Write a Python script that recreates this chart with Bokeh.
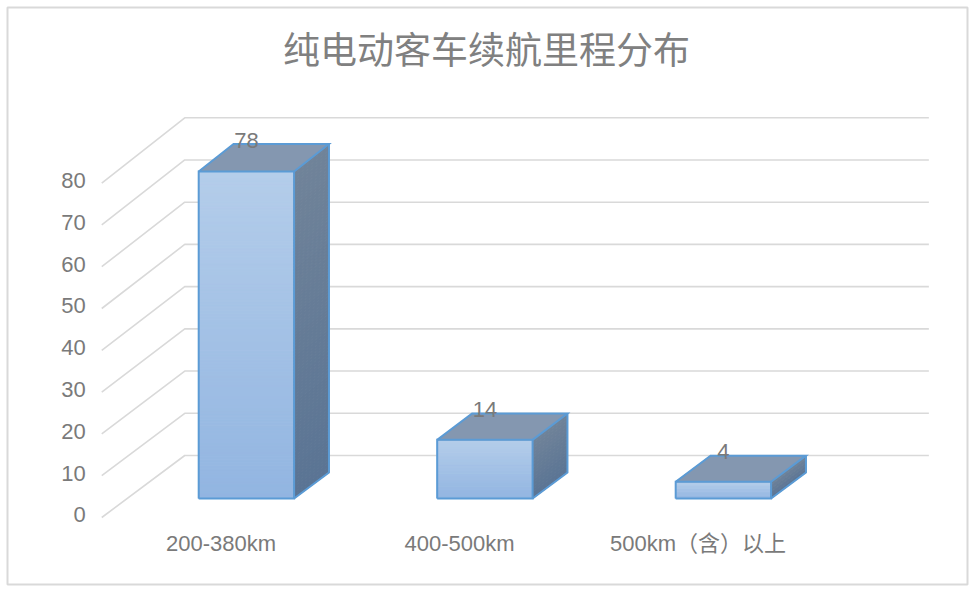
from bokeh.plotting import figure
from bokeh.models import Range1d
from bokeh.core.properties import value
from bokeh.embed import file_html
from bokeh.resources import INLINE

# ---- data -------------------------------------------------------------
title_text = "纯电动客车续航里程分布"
categories = ["200-380km", "400-500km", "500km（含）以上"]
counts = [78, 14, 4]
y_ticks = [0, 10, 20, 30, 40, 50, 60, 70, 80]

# ---- layout of the oblique 3-D projection -----------------------------
W, H = 975, 591
BORDER = 7
CAT_PX = 238.5          # screen px per category on the front plane
VAL_PX = 4.18           # screen px per value unit on the front plane
ORIGIN_X, ORIGIN_Y = 220.5, 517.0   # screen px of (category 0, value 0)

DEPTH_X = 83 / CAT_PX   # shift of the back wall, in category units
DEPTH_Y = 62 / VAL_PX   # lift of the back wall, in value units
PERSP = 0.01            # slight growth of the value scale towards the back
WALL_LEFT = -0.5
WALL_RIGHT = 2.62
BAR_HALF = 0.2
BAR_T0, BAR_T1 = 0.306, 0.726

FONT = "'Liberation Sans', 'Noto Sans CJK SC', sans-serif"
TEXT_COLOR = "#7a7a7a"
GRID_COLOR = "#d9d9d9"
EDGE_COLOR = "#5b9bd5"


def proj(x, v, t):
    """Project (category x, value v, depth t in 0..1) onto the plot plane."""
    return x + DEPTH_X * t, v * (1 + PERSP * t) + DEPTH_Y * t


def lerp_hex(c0, c1, f):
    a = [int(c0[i:i + 2], 16) for i in (1, 3, 5)]
    b = [int(c1[i:i + 2], 16) for i in (1, 3, 5)]
    return "#%02x%02x%02x" % tuple(round(a[k] + (b[k] - a[k]) * f) for k in range(3))


frame_l, frame_r = BORDER, W - BORDER - 1
frame_t, frame_b = BORDER, H - BORDER
x_range = Range1d((frame_l - ORIGIN_X) / CAT_PX, (frame_r - ORIGIN_X) / CAT_PX)
y_range = Range1d((ORIGIN_Y - frame_b) / VAL_PX, (ORIGIN_Y - frame_t) / VAL_PX)

p = figure(width=W, height=H, x_range=x_range, y_range=y_range,
           x_axis_type=None, y_axis_type=None,
           output_backend="svg", toolbar_location=None,
           min_border_left=BORDER, min_border_right=W - frame_r,
           min_border_top=BORDER, min_border_bottom=BORDER)
p.grid.visible = False
p.outline_line_color = GRID_COLOR
p.outline_line_width = 2
p.background_fill_color = "white"
p.border_fill_color = "white"

# ---- walls: back-wall gridlines and side-wall diagonals -----------------
gx, gy = [], []
for v in y_ticks:
    xa, ya = proj(WALL_LEFT, v, 0)
    xb, yb = proj(WALL_LEFT, v, 1)
    xc, yc = proj(WALL_RIGHT, v, 1)
    gx.append([xa, xb, xc])
    gy.append([ya, yb, yc])
p.multi_line(gx, gy, line_color=GRID_COLOR, line_width=1.6)

# ---- bars ---------------------------------------------------------------
FRONT_TOP, FRONT_BOT = "#b4cdea", "#92b5e1"
SIDE_TOP, SIDE_BOT = "#708399", "#5a7494"
TOP_COLOR = "#8497b0"

fx, fy, fc = [], [], []
ex, ey = [], []
for i, h in enumerate(counts):
    x0, x1 = i - BAR_HALF, i + BAR_HALF
    n = max(4, int(h * VAL_PX / 3))
    for k in range(n):
        va, vb = h * k / n, h * (k + 1) / n
        f = (k + 0.5) / n          # 0 at the bottom, 1 at the top
        # front face strip
        pts = [proj(x0, va, BAR_T0), proj(x1, va, BAR_T0),
               proj(x1, vb, BAR_T0), proj(x0, vb, BAR_T0)]
        fx.append([q[0] for q in pts]); fy.append([q[1] for q in pts])
        fc.append(lerp_hex(FRONT_BOT, FRONT_TOP, f))
        # side face strip
        pts = [proj(x1, va, BAR_T0), proj(x1, va, BAR_T1),
               proj(x1, vb, BAR_T1), proj(x1, vb, BAR_T0)]
        fx.append([q[0] for q in pts]); fy.append([q[1] for q in pts])
        fc.append(lerp_hex(SIDE_BOT, SIDE_TOP, f))
    # top face
    pts = [proj(x0, h, BAR_T0), proj(x1, h, BAR_T0),
           proj(x1, h, BAR_T1), proj(x0, h, BAR_T1)]
    fx.append([q[0] for q in pts]); fy.append([q[1] for q in pts])
    fc.append(TOP_COLOR)

    # edges
    for poly in (
        [proj(x0, 0, BAR_T0), proj(x1, 0, BAR_T0), proj(x1, h, BAR_T0),
         proj(x0, h, BAR_T0), proj(x0, 0, BAR_T0)],
        [proj(x0, h, BAR_T0), proj(x0, h, BAR_T1), proj(x1, h, BAR_T1),
         proj(x1, h, BAR_T0)],
        [proj(x1, h, BAR_T1), proj(x1, 0, BAR_T1), proj(x1, 0, BAR_T0)],
    ):
        ex.append([q[0] for q in poly]); ey.append([q[1] for q in poly])

p.patches(fx, fy, fill_color=fc, line_color=fc, line_width=1)
p.multi_line(ex, ey, line_color=EDGE_COLOR, line_width=2, line_join="miter")

# ---- data labels ------------------------------------------------------
lab_x = [i + DEPTH_X * BAR_T0 for i in range(len(counts))]
lab_y = [proj(0, h, BAR_T1)[1] + 4 / VAL_PX for h in counts]
p.text(lab_x, lab_y, text=[str(h) for h in counts],
       text_font=value(FONT), text_font_size="22px", text_color=TEXT_COLOR,
       text_align="center", text_baseline="middle")

# ---- value axis labels on the side wall ---------------------------------
p.text([WALL_LEFT - 16 / CAT_PX] * len(y_ticks), [v + 0.6 for v in y_ticks],
       text=[str(v) for v in y_ticks],
       text_font=value(FONT), text_font_size="22px", text_color=TEXT_COLOR,
       text_align="right", text_baseline="middle")

# ---- category labels ------------------------------------------------------
p.text(list(range(len(categories))), [-26 / VAL_PX] * len(categories),
       text=categories,
       text_font=value(FONT), text_font_size="22px", text_color=TEXT_COLOR,
       text_align="center", text_baseline="middle")

# ---- title --------------------------------------------------------------
p.text([(486 - ORIGIN_X) / CAT_PX], [(ORIGIN_Y - 47) / VAL_PX], text=[title_text],
       text_font=value("Noto Sans CJK SC"), text_font_size="37px",
       text_color="#808080", text_align="center", text_baseline="middle")

open("out.html", "w").write(file_html(p, INLINE))
